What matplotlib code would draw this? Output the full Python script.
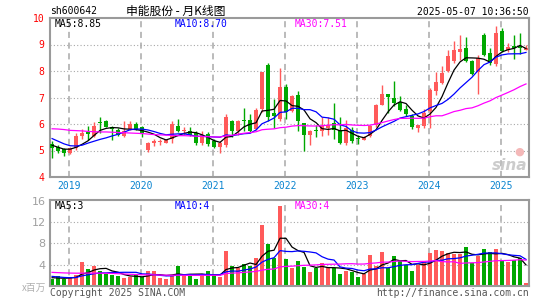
import numpy as np
import pandas as pd
import matplotlib
matplotlib.use("Agg")
import matplotlib.pyplot as plt

# monthly candles, 2018-10 .. 2025-05
opens = [5.25, 5.12, 5.05, 4.92, 5.08, 5.56, 5.68, 5.55, 6.08, 6.12,
         5.90, 5.78, 5.56, 5.82, 6.00, 5.88, 5.03, 5.30, 5.33, 5.30,
         5.45, 5.93, 5.72, 5.75, 5.65, 5.30, 5.62, 5.35, 5.15, 5.22,
         6.12, 5.73, 6.14, 6.15, 5.82, 6.55, 8.23, 6.40, 6.18, 7.38,
         6.50, 7.10, 6.03, 5.58, 5.75, 5.74, 5.86, 6.03, 5.78, 5.28,
         5.78, 5.45, 5.40, 5.55, 5.95, 6.72, 7.13, 7.00, 6.82, 6.57,
         6.30, 5.85, 5.93, 6.50, 7.25, 7.55, 8.00, 8.36, 8.72, 8.85,
         8.38, 7.98, 9.36, 8.68, 8.25, 9.50, 8.80, 8.93, 8.93, 8.80]
closes = [5.08, 4.97, 4.92, 5.10, 5.53, 5.65, 5.64, 5.93, 6.05, 5.90,
          5.80, 5.60, 5.72, 6.00, 5.82, 5.62, 5.30, 5.33, 5.36, 5.38,
          6.00, 5.75, 5.74, 5.60, 5.27, 5.60, 5.25, 5.15, 5.27, 6.25,
          5.73, 6.12, 6.10, 5.75, 6.53, 7.95, 6.25, 6.30, 7.40, 6.45,
          7.07, 6.12, 5.60, 5.74, 5.73, 5.93, 5.98, 5.78, 5.28, 5.85,
          5.35, 5.42, 5.50, 5.93, 6.70, 7.13, 7.03, 6.80, 6.53, 6.37,
          5.87, 5.95, 6.40, 7.30, 7.60, 7.92, 8.55, 8.80, 8.84, 8.38,
          7.90, 8.50, 8.60, 8.30, 9.45, 8.75, 8.92, 8.85, 8.85, 8.88]
highs = [5.35, 5.20, 5.10, 5.15, 5.65, 5.80, 5.92, 6.07, 6.27, 6.14,
         5.92, 5.85, 6.10, 6.10, 6.08, 5.92, 5.32, 5.42, 5.45, 5.45,
         6.10, 6.20, 5.90, 5.90, 5.72, 5.73, 5.68, 5.42, 5.35, 6.38,
         6.15, 6.15, 6.60, 6.36, 6.60, 7.98, 8.32, 6.95, 8.10, 7.50,
         7.10, 7.25, 6.05, 5.76, 5.95, 6.27, 6.25, 6.78, 6.28, 6.15,
         5.90, 5.60, 5.55, 5.95, 6.75, 7.48, 7.15, 7.62, 7.07, 6.72,
         6.37, 5.98, 6.55, 7.35, 7.95, 8.17, 8.80, 9.15, 9.36, 9.30,
         8.40, 8.60, 9.42, 8.86, 9.68, 9.62, 9.05, 9.35, 9.45, 9.00]
lows = [4.72, 4.92, 4.80, 4.85, 5.02, 5.42, 5.40, 5.50, 5.65, 5.88,
        5.40, 5.55, 5.52, 5.78, 5.78, 5.50, 4.95, 5.18, 5.22, 5.27,
        5.30, 5.70, 5.60, 5.55, 5.20, 5.20, 5.18, 5.10, 4.92, 5.15,
        5.50, 5.60, 5.72, 5.68, 5.78, 6.45, 6.10, 5.85, 6.10, 6.20,
        6.45, 5.75, 5.00, 5.22, 5.50, 5.55, 5.60, 5.45, 5.25, 5.20,
        5.28, 5.25, 5.38, 5.50, 5.88, 6.70, 6.40, 6.68, 6.50, 6.30,
        5.80, 5.68, 5.85, 5.85, 7.10, 7.50, 7.95, 8.30, 8.42, 8.35,
        7.85, 7.12, 8.55, 8.23, 8.20, 8.70, 8.72, 8.45, 8.65, 8.78]
volumes = [1.36, 1.80, 1.23, 1.67, 2.00, 4.50, 3.10, 3.70, 2.90, 2.30,
           2.10, 1.90, 1.50, 1.60, 2.00, 1.60, 2.75, 2.75, 1.50, 1.25,
           2.10, 3.70, 2.00, 1.90, 1.40, 2.20, 2.90, 2.05, 1.75, 6.50,
           3.70, 3.30, 4.20, 3.80, 5.15, 11.45, 7.95, 5.15, 15.05, 5.00,
           3.30, 4.60, 3.50, 2.55, 3.45, 4.25, 3.45, 3.45, 2.20, 2.75,
           2.60, 1.60, 2.25, 5.80, 3.70, 6.35, 3.40, 5.60, 4.60, 3.90,
           2.75, 3.90, 4.60, 6.20, 6.70, 6.50, 6.20, 5.95, 5.95, 7.30,
           4.30, 5.65, 6.90, 6.35, 6.90, 4.75, 4.50, 4.80, 5.15, 0.55]

# moving-average values before a full window exists
ma5_head = [5.20, 5.12, 5.05, 5.05]
ma10_head = [5.45, 5.35, 5.25, 5.18, 5.17, 5.20, 5.28, 5.35, 5.42]
ma30_head = [5.82, 5.81, 5.79, 5.76, 5.75, 5.74, 5.72, 5.71, 5.70, 5.70,
             5.69, 5.68, 5.67, 5.66, 5.65, 5.64, 5.62, 5.60, 5.59, 5.58,
             5.57, 5.56, 5.56, 5.55, 5.54, 5.53, 5.52, 5.51, 5.51]
vma5_head = [1.55, 1.50, 1.45, 1.50]
vma10_head = [1.80, 1.70, 1.60, 1.55, 1.60, 1.90, 2.10, 2.30, 2.45]
vma30_head = [2.55, 2.50, 2.45, 2.42, 2.40, 2.40, 2.42, 2.40, 2.40, 2.38,
              2.35, 2.30, 2.25, 2.20, 2.15, 2.10, 2.10, 2.08, 2.05, 2.03,
              2.02, 2.02, 2.00, 2.00, 2.00, 2.00, 2.00, 2.00, 2.00]

years = ["2019", "2020", "2021", "2022", "2023", "2024", "2025"]
year_idx = [3, 15, 27, 39, 51, 63, 75]
price_ticks = [4, 5, 6, 7, 8, 9, 10]
vol_ticks = [4, 8, 12, 16]

RED = "#ff5a5a"
GREEN = "#00a800"
GRID = "#a8a8a8"
W, H = 545, 300


def moving(values, n, head):
    m = pd.Series(values).rolling(n).mean().to_numpy()
    m[:n - 1] = head
    return m


def px(x, y):
    return x / W, 1 - y / H


o = np.array(opens)
c = np.array(closes)
hi = np.array(highs)
lo = np.array(lows)
v = np.array(volumes)
idx = np.arange(len(c))
up = c >= o
cols = np.where(up, RED, GREEN)

fig = plt.figure(figsize=(W / 100, H / 100), dpi=100)
ax = fig.add_axes([50 / W, 1 - 177 / H, 479 / W, 159 / H])
axv = fig.add_axes([50 / W, 1 - 286 / H, 479 / W, 86 / H])

mono = "DejaVu Sans Mono"

for a in (ax, axv):
    a.set_xlim(-0.35, 79.5)
    for s in a.spines.values():
        s.set_color("#9a9a9a")
        s.set_linewidth(1.5)
    for yi in year_idx:
        a.axvline(yi - 0.22, color=GRID, ls=(0, (4, 3)), lw=1.1, zorder=0)
    a.tick_params(length=0)

# price panel
ax.set_ylim(4, 10)
for p in price_ticks[1:-1]:
    ax.axhline(p, color=GRID, ls=(0, (1, 2)), lw=0.8, zorder=0)
ax.vlines(idx, lo, hi, colors=cols, lw=1, zorder=2)
body = np.maximum(np.abs(c - o), 0.04)
ax.bar(idx, body, bottom=np.minimum(o, c), width=0.8, color=cols, lw=0, zorder=3)
ax.plot(idx, moving(c, 5, ma5_head), color="black", lw=0.9, zorder=4)
ax.plot(idx, moving(c, 10, ma10_head), color="#0000ff", lw=0.9, zorder=4)
ax.plot(idx, moving(c, 30, ma30_head), color="#ff00ff", lw=0.9, zorder=4)
ax.set_yticks(price_ticks)
ax.set_yticklabels([str(t) for t in price_ticks], color="#ff0000",
                   fontsize=7, family=mono)
ax.set_xticks([yi - 0.22 for yi in year_idx])
ax.set_xticklabels(years, color="#0a84d0", fontsize=7, family=mono)
ax.tick_params(axis="y", pad=4)
ax.tick_params(axis="x", pad=3)

# volume panel
axv.set_ylim(0, 16.1)
for p in vol_ticks[:-1]:
    axv.axhline(p, color=GRID, ls=(0, (1, 2)), lw=0.8, zorder=0)
axv.bar(idx, v, width=0.8, color=cols, lw=0, zorder=2)
axv.plot(idx, moving(v, 5, vma5_head), color="black", lw=0.9, zorder=4)
axv.plot(idx, moving(v, 10, vma10_head), color="#0000ff", lw=0.9, zorder=4)
axv.plot(idx, moving(v, 30, vma30_head), color="#ff00ff", lw=0.9, zorder=4)
axv.set_yticks(vol_ticks)
axv.set_yticklabels([str(t) for t in vol_ticks], color="#a0a0a0", fontsize=8)
axv.set_xticks([])
axv.tick_params(axis="y", pad=3)

# texts
fig.text(*px(50, 11), "sh600642", family=mono, fontsize=7, va="center")
fig.text(*px(176, 11), "申能股份 - 月K线图", ha="center", va="center",
         family=["Noto Sans CJK SC", "DejaVu Sans"], fontsize=8.5)
fig.text(*px(529, 12), "2025-05-07 10:36:50", ha="right", va="center",
         family=mono, fontsize=7)
ma5 = moving(c, 5, ma5_head)[-1]
ma10 = moving(c, 10, ma10_head)[-1]
ma30 = moving(c, 30, ma30_head)[-1]
fig.text(*px(55, 24), "MA5:%.2f" % ma5, family=mono, fontsize=7, va="center")
fig.text(*px(175, 24), "MA10:%.2f" % ma10, family=mono, fontsize=7,
         va="center", color="#0000ff")
fig.text(*px(295, 24), "MA30:%.2f" % ma30, family=mono, fontsize=7,
         va="center", color="#ff00ff")
vm5 = moving(v, 5, vma5_head)[-1]
vm10 = moving(v, 10, vma10_head)[-1]
vm30 = moving(v, 30, vma30_head)[-1]
fig.text(*px(55, 206), "MA5:%d" % vm5, family=mono, fontsize=7, va="center")
fig.text(*px(175, 206), "MA10:%d" % vm10, family=mono, fontsize=7,
         va="center", color="#0000ff")
fig.text(*px(295, 206), "MA30:%d" % vm30, family=mono, fontsize=7,
         va="center", color="#ff00ff")
fig.text(*px(46, 288), "x百万", ha="right", va="center", color="#b0b0b0",
         family=["Noto Sans CJK SC", "DejaVu Sans"], fontsize=7)
fig.text(*px(50, 293), "Copyright 2025 SINA.COM", family=mono, fontsize=7,
         va="center", color="#555555")
fig.text(*px(529, 293), "http://finance.sina.com.cn", family=mono, fontsize=7,
         va="center", ha="right", color="#555555")
fig.text(*px(527, 166), "sina", ha="right", va="center", fontsize=11,
         style="italic", weight="bold", color="#cccccc")
fig.text(*px(519, 152), "●", ha="center", va="center", fontsize=8,
         color="#f4b8b8")

fig.savefig("out.png", dpi=100)
